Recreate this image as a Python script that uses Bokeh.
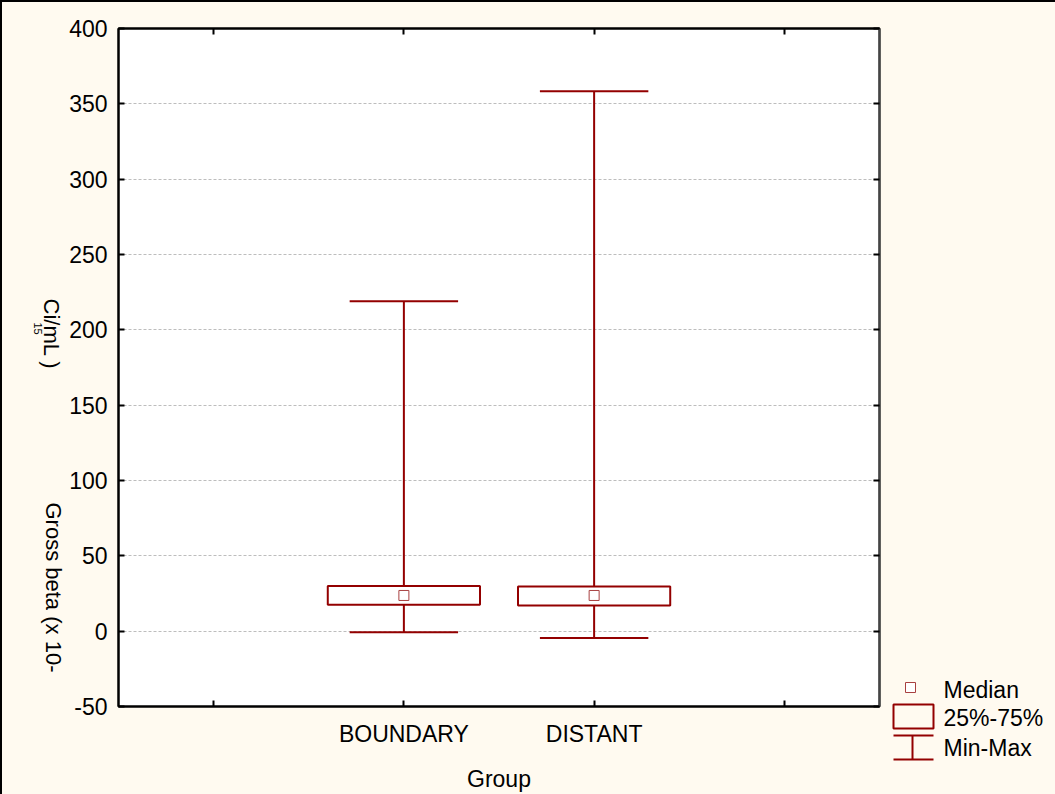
import math
from bokeh.plotting import figure
from bokeh.models import Range1d, FixedTicker, LinearAxis
from bokeh.layouts import row, column
from bokeh.embed import file_html
from bokeh.resources import INLINE

# ---------------- data ----------------
groups = ["BOUNDARY", "DISTANT"]
axis_slots = ["", "BOUNDARY", "DISTANT", ""]
mins = [-0.8, -4.5]
maxs = [219.0, 358.3]
q1 = [17.5, 17.0]
q3 = [29.9, 29.7]
medians = [23.7, 23.7]
y_ticks = [-50, 0, 50, 100, 150, 200, 250, 300, 350, 400]
y_title_parts = ["Gross beta (x 10-", "Ci/mL )", "15"]
legend_labels = ["Median", "25%-75%", "Min-Max"]
x_title = "Group"

# ---------------- style ----------------
RED = "#930000"
MED = "#a84040"
BG = "#FFFAF0"
FONT = "Liberation Sans"
FS = "23px"
H = 792                      # panel height (page y 2..794)
TOP, BOTTOM = 26, 88         # borders around the plot frame (frame = page y 28..706)
FRAME_TOP, FRAME_BOTTOM = 2 + TOP, 2 + H - BOTTOM

xpos = [axis_slots.index(g) + 1 for g in groups]
box_w = 0.80
cap_w = 0.57

# ---------------- left panel: y title ----------------
L_W = 64
lp = figure(width=L_W, height=H, x_range=Range1d(2, 2 + L_W),
            y_range=Range1d(FRAME_BOTTOM, FRAME_TOP),
            output_backend="svg", toolbar_location=None,
            min_border_left=0, min_border_right=0, min_border_top=TOP, min_border_bottom=BOTTOM,
            background_fill_color=BG, border_fill_color=BG)
lp.axis.visible = False
lp.grid.visible = False
lp.outline_line_color = None
lp.text(x=[53, 51], y=[502, 298], text=y_title_parts[:2], angle=-math.pi / 2,
        text_font={"value": FONT}, text_font_size={"value": "22px"}, text_color="black",
        text_align="left", text_baseline="middle")
lp.text(x=[37], y=[322], text=y_title_parts[2:], angle=-math.pi / 2,
        text_font={"value": FONT}, text_font_size={"value": "11px"}, text_color="black",
        text_align="left", text_baseline="middle")

# ---------------- main plot ----------------
MAIN_W = 819
p = figure(width=MAIN_W, height=H, x_range=Range1d(0.5, len(axis_slots) + 0.5),
           y_range=Range1d(y_ticks[0], y_ticks[-1]),
           output_backend="svg", toolbar_location=None,
           min_border_left=50, min_border_right=6, min_border_top=TOP, min_border_bottom=BOTTOM,
           background_fill_color="white", border_fill_color=BG)
p.outline_line_color = "black"
p.outline_line_width = 2

p.xgrid.visible = False
p.ygrid.ticker = FixedTicker(ticks=y_ticks)
p.ygrid.grid_line_color = "#bdbdbd"
p.ygrid.grid_line_dash = "3 2"
p.ygrid.grid_line_width = 1


def style_axis(ax):
    ax.axis_line_color = "black"
    ax.axis_line_width = 2
    ax.major_tick_in = 6
    ax.major_tick_out = 0
    ax.major_tick_line_width = 2
    ax.major_tick_line_color = "black"
    ax.minor_tick_line_color = None
    ax.major_label_text_font = FONT
    ax.major_label_text_font_size = FS
    ax.major_label_text_color = "black"


x_ticks = list(range(1, len(axis_slots) + 1))
p.xaxis.ticker = FixedTicker(ticks=x_ticks)
p.xaxis.major_label_overrides = {t: lab for t, lab in zip(x_ticks, axis_slots)}
p.yaxis.ticker = FixedTicker(ticks=y_ticks)
p.yaxis.major_label_overrides = {t: str(t) for t in y_ticks}
style_axis(p.xaxis[0])
style_axis(p.yaxis[0])
p.yaxis.major_label_standoff = 11
p.xaxis.major_label_standoff = 14
p.xaxis.axis_label = x_title
p.xaxis.axis_label_text_font = FONT
p.xaxis.axis_label_text_font_size = FS
p.xaxis.axis_label_text_font_style = "normal"
p.xaxis.axis_label_text_color = "black"
p.xaxis.axis_label_standoff = 16

top_ax = LinearAxis(ticker=FixedTicker(ticks=x_ticks),
                    major_label_overrides={t: "" for t in x_ticks})
right_ax = LinearAxis(ticker=FixedTicker(ticks=y_ticks),
                      major_label_overrides={t: "" for t in y_ticks})
for ax in (top_ax, right_ax):
    style_axis(ax)
    ax.major_label_standoff = 0
right_ax.axis_line_color = "#444444"
p.add_layout(top_ax, "above")
p.add_layout(right_ax, "right")

# whiskers
p.segment(x0=xpos, y0=mins, x1=xpos, y1=q1, line_color=RED, line_width=2)
p.segment(x0=xpos, y0=q3, x1=xpos, y1=maxs, line_color=RED, line_width=2)
p.segment(x0=[x - cap_w / 2 for x in xpos], y0=maxs, x1=[x + cap_w / 2 for x in xpos], y1=maxs,
          line_color=RED, line_width=2)
p.segment(x0=[x - cap_w / 2 for x in xpos], y0=mins, x1=[x + cap_w / 2 for x in xpos], y1=mins,
          line_color=RED, line_width=2)
# boxes
p.vbar(x=xpos, width=box_w, bottom=q1, top=q3, fill_color="white", line_color=RED, line_width=2)
# medians
p.scatter(x=xpos, y=medians, marker="square", size=10, fill_color="white",
          line_color=MED, line_width=1)

# ---------------- legend panel ----------------
lx0 = 2 + L_W + MAIN_W
lw = 1055 - lx0
q = figure(width=lw, height=H, x_range=Range1d(lx0, lx0 + lw), y_range=Range1d(2 + H, 2),
           output_backend="svg", toolbar_location=None, min_border=0,
           background_fill_color=BG, border_fill_color=BG)
q.axis.visible = False
q.grid.visible = False
q.outline_line_color = None

q.scatter(x=[910], y=[687], marker="square", size=10, fill_color="white",
          line_color=MED, line_width=1)
q.quad(left=[893], right=[933], top=[704], bottom=[728], fill_color=None,
       line_color=RED, line_width=2)
q.segment(x0=[893, 912, 893], y0=[735, 735, 759], x1=[933, 912, 933], y1=[735, 759, 759],
          line_color=RED, line_width=2)
q.text(x=[943, 943, 943], y=[689, 717, 747], text=legend_labels,
       text_font={"value": FONT}, text_font_size={"value": FS}, text_color="black",
       text_baseline="middle", text_align="left")

layout = row(lp, p, column(q))
layout.styles = {"border-top": "2px solid black", "border-left": "2px solid black",
                 "background-color": BG}

open("out.html", "w").write(file_html(layout, INLINE))
